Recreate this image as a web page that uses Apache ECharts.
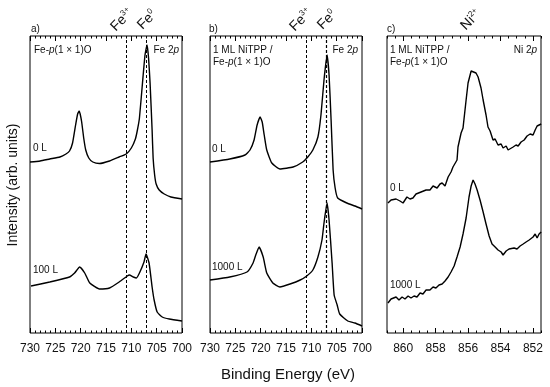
<!DOCTYPE html>
<html><head><meta charset="utf-8">
<script src="https://cdn.jsdelivr.net/npm/echarts@6/dist/echarts.min.js"></script>
<style>html,body{margin:0;padding:0;background:#fff}#c{width:550px;height:387px}</style>
</head><body><div id="c"></div><script>
// ---- data (binding energy eV, intensity arb. units) ----
const feMarkers = [711, 707];           // Fe3+, Fe0 positions
const niTickLabels = [852, 854, 856, 858, 860];

const aFe0L = [[730,171],[728,172],[726.1,174],[724.1,176],[722.9,179],[722.2,182],[721.6,190],[721,208],[720.6,219],[720.3,222],[720.1,219],[719.8,211],[719.4,195],[719,183],[718.4,175],[717.6,171],[716.3,169.5],[714.3,172],[712.4,176],[711,179],[710,185],[709.2,194],[708.8,203],[708.4,215],[707.8,250],[707.3,278],[706.9,288],[706.6,275],[706.3,250],[705.9,203],[705.7,175],[705.4,158],[705.1,149],[704.5,143],[703.5,139],[702.2,136],[700,134]];
const aFe100L = [[729.8,47],[726.1,51],[722.2,56],[721.2,60],[720.2,66],[719.2,60],[718.2,50],[716.3,44],[714.3,45],[712.4,51],[710.8,57],[710.4,58],[709.6,56],[709,55],[708.4,60],[707.5,71],[707.1,79],[706.5,70],[705.9,46],[705.5,33],[704.9,21],[703.9,16],[702.5,14],[700,12]];
const bFe0L = [[730,171],[726.1,174],[723.1,178],[722.1,183],[721.3,193],[720.7,208],[720.1,216],[719.7,211],[719.3,198],[718.8,183],[717.8,170],[716.2,164],[713.6,166],[711.7,171],[710.7,176],[709.7,183],[708.7,196],[708.1,218],[707.5,253],[706.9,278],[706.5,258],[706.1,213],[705.7,163],[705.3,145],[704.8,135],[703,130],[701.4,127],[700,124]];
const bFe1000L = [[730,53],[726.1,56],[722.7,61],[721.5,70],[720.9,79],[720.3,86],[719.5,76],[718.8,60],[717.6,50],[716.2,46],[714.2,49],[712.2,53],[710.9,57],[709.7,63],[708.7,76],[707.9,93],[707.5,110],[706.9,130],[706.5,113],[705.9,70],[705.5,38],[704.9,28],[704.4,19],[702.8,12],[701.4,10],[700,7]];
const cNi0L = [[860.94,130],[860.75,133],[860.63,131],[860.44,134],[860.2,132],[860.01,130],[859.77,136],[859.58,134],[859.4,135],[859.21,139],[859.09,137],[858.9,141],[858.78,139],[858.59,143],[858.35,143],[858.16,147],[857.91,145],[857.73,149],[857.6,150],[857.42,147],[857.23,156],[857.05,161],[856.93,166],[856.68,173],[856.62,186],[856.43,200],[856.31,205],[856.12,233],[856,250],[855.81,262],[855.69,264],[855.51,260],[855.38,256],[855.2,245],[855.07,233],[854.89,218],[854.77,206],[854.64,202],[854.46,193],[854.33,194],[854.15,188],[853.96,189],[853.84,185],[853.65,187],[853.53,183],[853.41,182],[853.22,186],[853.04,188],[852.91,187],[852.73,191],[852.54,193],[852.36,197],[852.17,199],[851.99,198],[851.86,203],[851.74,207],[851.62,205],[851.49,209]];
const cNi1000L = [[860.94,30],[860.75,34],[860.63,32],[860.44,36],[860.26,33],[860.07,36],[859.89,34],[859.7,37],[859.52,35],[859.33,37],[859.15,36],[858.96,40],[858.78,39],[858.59,43],[858.35,43],[858.16,46],[857.98,45],[857.79,48],[857.6,49],[857.42,52],[857.23,56],[857.05,61],[856.86,67],[856.68,76],[856.49,86],[856.31,99],[856.12,115],[855.94,136],[855.81,147],[855.69,153],[855.57,149],[855.44,143],[855.26,133],[855.07,121],[854.89,109],[854.7,97],[854.52,89],[854.33,86],[854.15,83],[853.96,81],[853.84,78],[853.65,82],[853.47,84],[853.35,82],[853.16,85],[852.98,84],[852.79,87],[852.6,89],[852.42,91],[852.23,93],[852.11,91],[851.99,96],[851.86,99],[851.74,95],[851.62,99],[851.49,101]];

// ---- layout / styles ----
const FONT = "'Liberation Sans', Arial, sans-serif";
const TOP = 36, H = 297;
const grids = [
  {left: 30, top: TOP, width: 152, height: H},
  {left: 210, top: TOP, width: 152, height: H},
  {left: 387, top: TOP, width: 154, height: H}
];
const tickStyle = {color: '#000', width: 1};

function feAxis(g, pos) {
  return {
    type: 'value', gridIndex: g, position: pos, min: 700, max: 730, interval: 5, inverse: true,
    axisLine: {show: false},
    axisTick: {show: true, inside: true, length: 5, lineStyle: tickStyle},
    minorTick: {show: true, splitNumber: 5, length: 2.5, lineStyle: tickStyle},
    axisLabel: {show: pos === 'bottom', color: '#111', fontSize: 12, fontFamily: FONT, margin: 10},
    splitLine: {show: false}, minorSplitLine: {show: false}
  };
}
function niMajor(pos) {
  return {
    type: 'value', gridIndex: 2, position: pos, min: 851.5, max: 861, inverse: true,
    axisLine: {show: false},
    axisTick: {show: true, inside: true, length: 5, lineStyle: tickStyle, customValues: niTickLabels},
    axisLabel: {show: pos === 'bottom', color: '#111', fontSize: 12, fontFamily: FONT, margin: 10, customValues: niTickLabels},
    splitLine: {show: false}
  };
}
function niMinor(pos) {
  return {
    type: 'value', gridIndex: 2, position: pos, min: 851.5, max: 861, interval: 0.5, inverse: true,
    axisLine: {show: false},
    axisTick: {show: true, inside: true, length: 2.5, lineStyle: tickStyle},
    axisLabel: {show: false}, splitLine: {show: false}
  };
}
const xAxes = [feAxis(0,'bottom'), feAxis(0,'top'), feAxis(1,'bottom'), feAxis(1,'top'),
  niMajor('bottom'), niMajor('top'), niMinor('bottom'), niMinor('top')];
const yAxes = [0,1,2].map(g => ({type: 'value', gridIndex: g, min: 0, max: 297, show: false}));

function curve(data, xi, yi, extra) {
  return Object.assign({
    type: 'line', data: data, xAxisIndex: xi, yAxisIndex: yi, showSymbol: false, symbol: 'none',
    smooth: 0.15, lineStyle: {color: '#000', width: 1.4}, silent: true
  }, extra || {});
}
function markers(widths) {
  return {markLine: {silent: true, symbol: ['none','none'], label: {show: false},
    data: feMarkers.map((v, i) => ({xAxis: v, lineStyle: {color: '#000', width: widths[i], type: [3, 2]}}))}};
}

function txt(x, y, t, opts) {
  return {type: 'text', x: x, y: y, silent: true, style: Object.assign({
    text: t, fontFamily: FONT, fontSize: 10, fill: '#111', verticalAlign: 'middle', align: 'left'}, opts || {})};
}
const supRich = {
  b: {fontSize: 14, fontFamily: FONT, fill: '#111', lineHeight: 16},
  s: {fontSize: 8, fontFamily: FONT, fill: '#111', verticalAlign: 'top', lineHeight: 16, padding: [0,0,8,0]}
};
function rot(x, y, base, sup) {
  return {type: 'text', x: x, y: y, rotation: Math.PI / 4, silent: true,
    style: {text: '{b|' + base + '}{s|' + sup + '}', rich: supRich, align: 'center', verticalAlign: 'middle'}};
}
const italRich = {i: {fontStyle: 'italic', fontSize: 10, fontFamily: FONT, fill: '#111'}};
function feP(x, y) { return txt(x, y, 'Fe-{i|p}(1 × 1)O', {rich: italRich}); }

const graphics = [
  txt(31, 29, 'a)'), txt(209, 29, 'b)'), txt(387, 29, 'c)'),
  feP(34, 50),
  txt(179, 50, 'Fe 2{i|p}', {align: 'right', rich: italRich}),
  txt(213, 50, '1 ML NiTPP /'), feP(213, 62),
  txt(358, 50, 'Fe 2{i|p}', {align: 'right', rich: italRich}),
  txt(390, 50, '1 ML NiTPP /'), feP(390, 62),
  txt(537, 50, 'Ni 2{i|p}', {align: 'right', rich: italRich}),
  txt(33, 148, '0 L'), txt(33, 270, '100 L'),
  txt(212, 149, '0 L'), txt(212, 267, '1000 L'),
  txt(390, 188, '0 L'), txt(390, 285, '1000 L'),
  rot(122, 20, 'Fe', '3+'), rot(147, 20, 'Fe', '0'),
  rot(301, 20, 'Fe', '3+'), rot(327, 20, 'Fe', '0'),
  rot(471, 20, 'Ni', '2+'),
  {type: 'text', x: 13, y: 185, rotation: Math.PI / 2, silent: true,
    style: {text: 'Intensity (arb. units)', fontFamily: FONT, fontSize: 14, fill: '#111', align: 'center', verticalAlign: 'middle'}},
  {type: 'text', x: 288, y: 375, silent: true,
    style: {text: 'Binding Energy (eV)', fontFamily: FONT, fontSize: 15, fill: '#111', align: 'center', verticalAlign: 'middle'}}
];

const chart = echarts.init(document.getElementById('c'), null, {renderer: 'canvas'});
chart.setOption({
  animation: false,
  backgroundColor: '#fff',
  grid: grids.map(g => Object.assign({show: true, borderColor: '#000', borderWidth: 1, backgroundColor: 'transparent'}, g)),
  xAxis: xAxes,
  yAxis: yAxes,
  series: [
    curve(aFe0L, 0, 0, markers([1, 1])),
    curve(aFe100L, 0, 0),
    curve(bFe0L, 2, 1, markers([1, 1.2])),
    curve(bFe1000L, 2, 1),
    curve(cNi0L, 4, 2, {smooth: false}),
    curve(cNi1000L, 4, 2, {smooth: false})
  ],
  graphic: graphics
});
</script></body></html>
